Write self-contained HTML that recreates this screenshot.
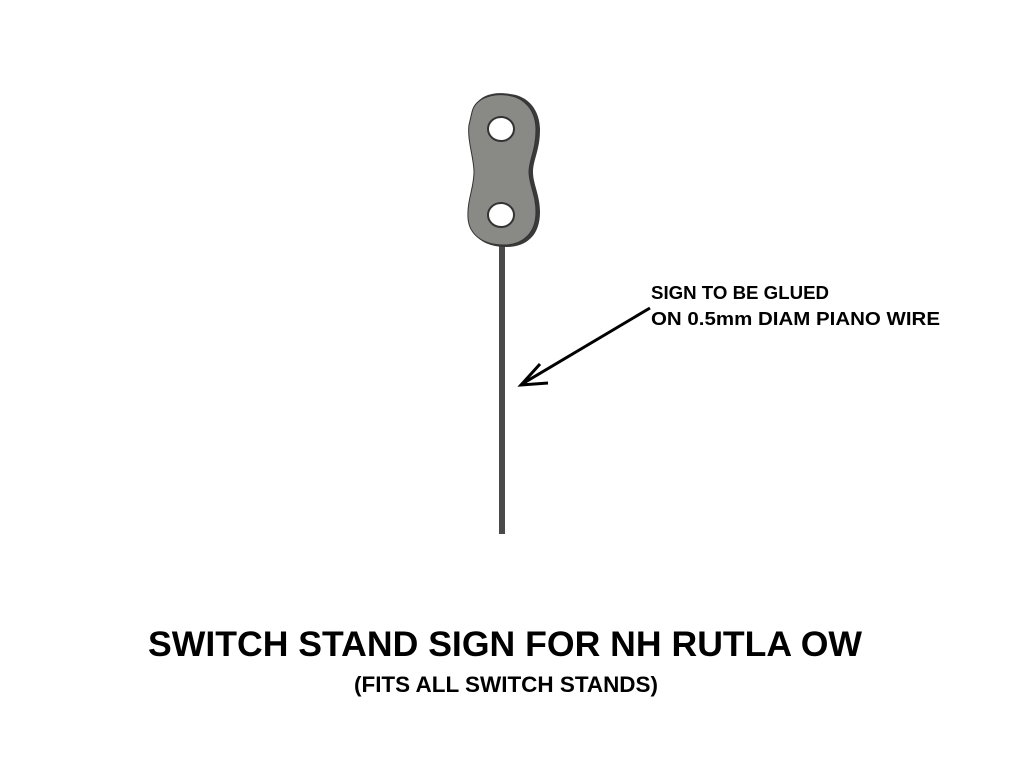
<!DOCTYPE html>
<html><head><style>
body{margin:0;background:#fff;width:1024px;height:764px;overflow:hidden;font-family:"Liberation Sans",sans-serif}
</style></head><body>
<svg width="1024" height="764" viewBox="0 0 1024 764" xmlns="http://www.w3.org/2000/svg">
<rect x="499" y="245" width="6" height="289" fill="#4a4a4a"/>
<path d="M474,110 C478,92 500,92 510,94 C530,96 540,112 540,130 C540,150 533,160 533,172 C533,184 540,195 540,212 C540,236 526,247 506,247 C484,247 470,236 469,218 C468,200 475,188 475,172 C475,158 468,140 470,125 Z" fill="#3a3a3a"/>
<path d="M472,112 C476,95 498,94 506,95 C526,97 536,112 536,130 C536,150 529,160 529,172 C529,184 536,195 536,212 C536,234 522,245 504,245 C482,245 469,234 468,218 C467,200 474,188 474,172 C474,158 467,140 469,125 Z" fill="#898985" stroke="#333" stroke-width="1"/>
<ellipse cx="501" cy="129" rx="13" ry="12" fill="#fff" stroke="#333" stroke-width="2"/>
<ellipse cx="501" cy="215" rx="13" ry="12" fill="#fff" stroke="#333" stroke-width="2"/>
<line x1="650" y1="308" x2="522" y2="384" stroke="#000" stroke-width="3"/>
<polyline points="540,364 521,385 548,383" fill="none" stroke="#000" stroke-width="3"/>
<text x="651" y="299" font-size="18" font-weight="bold" fill="#000" textLength="178" lengthAdjust="spacingAndGlyphs">SIGN TO BE GLUED</text>
<text x="651" y="325" font-size="18" font-weight="bold" fill="#000" textLength="289" lengthAdjust="spacingAndGlyphs">ON 0.5mm DIAM PIANO WIRE</text>
<text x="148" y="656" font-size="35" font-weight="bold" fill="#000" textLength="714" lengthAdjust="spacingAndGlyphs">SWITCH STAND SIGN FOR NH RUTLA OW</text>
<text x="354" y="692" font-size="22" font-weight="bold" fill="#000" textLength="304" lengthAdjust="spacingAndGlyphs">(FITS ALL SWITCH STANDS)</text>
</svg>
</body></html>
